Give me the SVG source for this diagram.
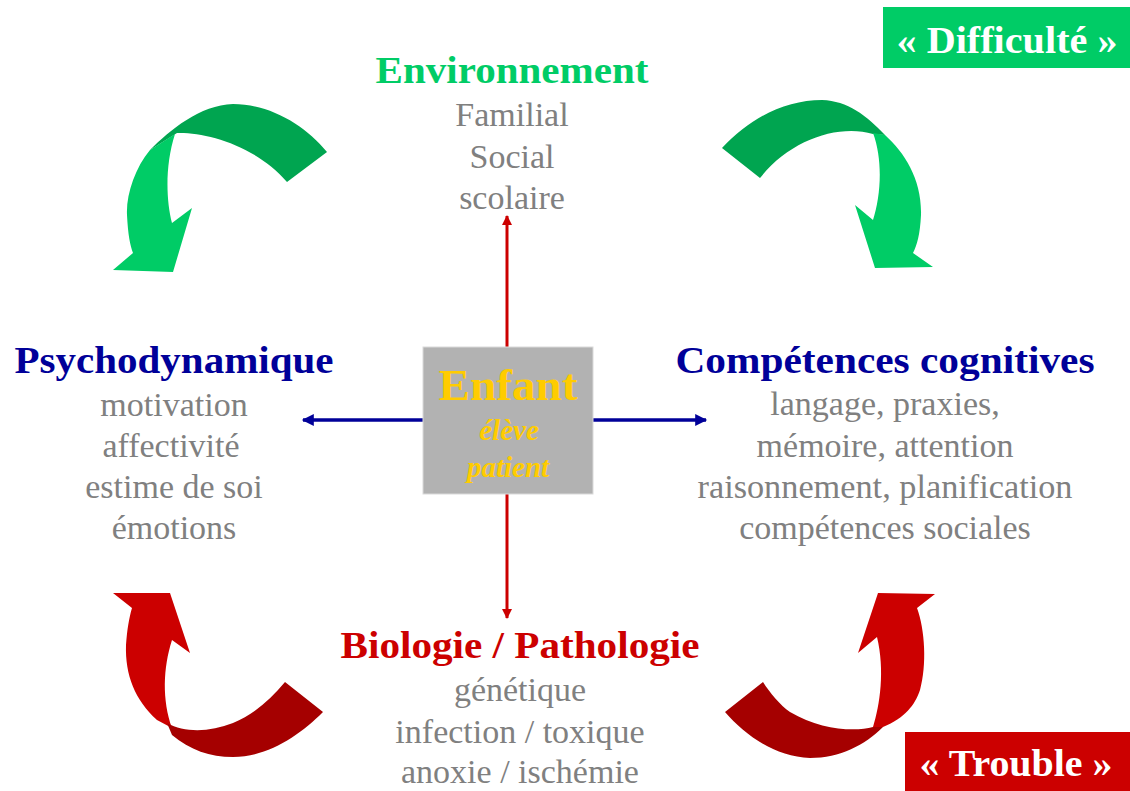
<svg xmlns="http://www.w3.org/2000/svg" width="1130" height="791" viewBox="0 0 1130 791">
<defs>
<style>
.t{font-family:"Liberation Serif","Times New Roman",serif;text-anchor:middle}
.h{font-weight:bold;font-size:37px}
.g{font-size:34px;fill:#808080}
.dg{fill:#00A550}.lg{fill:#00CC66}.dr{fill:#A50000}.lr{fill:#CC0000}
.red{stroke:#CC0000;stroke-width:3;fill:none}
.blue{stroke:#000099;stroke-width:3.5;fill:none}
</style>
<marker id="mr" viewBox="0 0 10 10" refX="9" refY="5" markerWidth="14" markerHeight="10" markerUnits="userSpaceOnUse" orient="auto"><path d="M0,0L10,5L0,10Z" fill="#CC0000"/></marker>
<marker id="mb" viewBox="0 0 10 10" refX="9" refY="5" markerWidth="16" markerHeight="12" markerUnits="userSpaceOnUse" orient="auto"><path d="M0,0L10,5L0,10Z" fill="#000099"/></marker>
</defs>
<rect width="1130" height="791" fill="#fff"/>
<g id="curved-arrows">
<path class="dg" d="M327,152 C305,125 270,104 233,104 C200,105 170,130 150,150 L177,133 C205,132 255,145 287,182 Z"/>
<path class="lg" d="M150,150 C135,168 126,195 127,215 C128,235 130,245 133,253 L113,270 L173,272 L192,208 L172,223 C166,200 165,165 175,134 Z"/>
<path class="dg" d="M722,148 C750,118 785,100 822,100 C848,101 866,115 885,135 L873,134 C838,124 790,140 760,178 Z"/>
<path class="lg" d="M873,133 L885,135 C905,153 922,180 921,215 C920,235 917,245 913,253 L933,267 L875,268 L855,205 L873,220 C881,195 883,160 873,133 Z"/>
<path class="lr" d="M113,593 L170,593 L190,653 L172,640 C163,668 162,700 172,728 L157,720 C135,700 125,675 126,645 C127,630 129,618 132,608 Z"/>
<path class="dr" d="M167,723 C185,733 210,732 233,723 C253,715 270,700 285,682 L323,712 C300,735 268,757 233,757 C210,757 190,750 172,735 Z"/>
<path class="lr" d="M878,593 L935,594 L917,608 C925,630 927,665 920,690 C915,705 905,718 883,727 L873,727 C880,705 885,670 877,637 L858,653 Z"/>
<path class="dr" d="M725,712 C745,735 775,757 810,758 C840,758 865,745 883,727 L873,727 C855,732 820,730 790,712 C780,705 770,693 763,682 Z"/>
</g>
<g id="connectors">
<line class="red" x1="507" y1="347" x2="507" y2="216" marker-end="url(#mr)"/>
<line class="red" x1="507" y1="494" x2="507" y2="618" marker-end="url(#mr)"/>
<line class="blue" x1="423" y1="420" x2="303" y2="420" marker-end="url(#mb)"/>
<line class="blue" x1="593" y1="420" x2="706" y2="420" marker-end="url(#mb)"/>
</g>
<g id="enfant">
<rect x="423" y="347" width="170" height="147" fill="#B2B2B2" stroke="#DADADA" stroke-width="1"/>
<text class="t" x="508" y="400" font-size="45" font-weight="bold" fill="#FFCC00" textLength="139" lengthAdjust="spacingAndGlyphs">Enfant</text>
<text class="t" x="509" y="440" font-size="29" font-weight="bold" font-style="italic" fill="#FFCC00">élève</text>
<text class="t" x="508" y="477" font-size="29" font-weight="bold" font-style="italic" fill="#FFCC00">patient</text>
</g>
<g id="environnement">
<text class="t h" x="512" y="83" fill="#00CC66" textLength="273" lengthAdjust="spacingAndGlyphs">Environnement</text>
<text class="t g" x="512" y="126">Familial</text>
<text class="t g" x="512" y="168">Social</text>
<text class="t g" x="512" y="209">scolaire</text>
</g>
<g id="psychodynamique">
<text class="t h" x="174" y="373" fill="#000099" textLength="319" lengthAdjust="spacingAndGlyphs">Psychodynamique</text>
<text class="t g" x="174" y="416">motivation</text>
<text class="t g" x="171" y="457">affectivité</text>
<text class="t g" x="174" y="498">estime de soi</text>
<text class="t g" x="174" y="539">émotions</text>
</g>
<g id="competences">
<text class="t h" x="885" y="373" fill="#000099" textLength="419" lengthAdjust="spacingAndGlyphs">Compétences cognitives</text>
<text class="t g" x="885" y="415">langage, praxies,</text>
<text class="t g" x="885" y="457">mémoire, attention</text>
<text class="t g" x="885" y="498" textLength="375" lengthAdjust="spacingAndGlyphs">raisonnement, planification</text>
<text class="t g" x="885" y="539">compétences sociales</text>
</g>
<g id="biologie">
<text class="t h" x="520" y="658" fill="#CC0000" textLength="359" lengthAdjust="spacingAndGlyphs">Biologie / Pathologie</text>
<text class="t g" x="520" y="701">génétique</text>
<text class="t g" x="520" y="743">infection / toxique</text>
<text class="t g" x="520" y="783">anoxie / ischémie</text>
</g>
<g id="difficulte">
<rect x="883" y="7" width="247" height="61" fill="#00CC66"/>
<text class="t h" x="1007" y="53" fill="#fff" textLength="221" lengthAdjust="spacingAndGlyphs">« Difficulté »</text>
</g>
<g id="trouble">
<rect x="905" y="732" width="225" height="59" fill="#CC0000"/>
<text class="t h" x="1016" y="776" fill="#fff" textLength="193" lengthAdjust="spacingAndGlyphs">« Trouble »</text>
</g>
</svg>
